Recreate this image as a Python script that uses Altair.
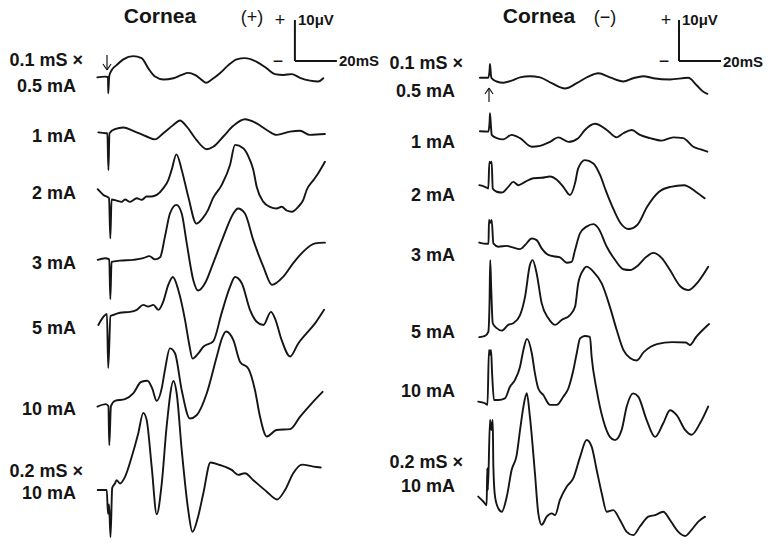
import altair as alt
import pandas as pd

# ---------------- data (time in ms after stimulus, amplitude in microvolts) ----------------
panel_titles = ["Cornea", "Cornea"]
panel_signs = ["(+)", "(−)"]
label_texts = ["0.1 mS ×", "0.5 mA", "1 mA", "2 mA", "3 mA", "5 mA", "10 mA", "0.2 mS ×", "10 mA"]
scale_ms = 20
scale_uv = 10
scale_texts = ["+", "10μV", "−", "20mS"]

# Cornea (+)
L1 = [(-5.1, -0.1), (-1.4, 0.1), (0, 0), (0.1, -4.0), (0.6, 0.2), (1.8, 1.7), (4.1, 2.9), (7.3, 4.3), (12, 5.1),
      (16, 4.6), (19.2, 2.1), (22.4, 0.1), (26.3, -0.6), (31.1, -0.3), (35.1, 0.5), (38.2, 1.0), (41.4, 0.5),
      (44.6, -0.7), (46.7, -1.4), (49.4, -0.6), (53.3, 0.9), (57.3, 2.9), (61.3, 4.3), (65.2, 4.6), (70.8, 3.7),
      (75.6, 2.1), (79.5, 0.7), (83.5, 0.5), (87.5, 0.7), (91.4, -0.2), (96.2, -0.9), (100.1, -1.1), (102.5, -0.3)]
L2 = [(-4.6, -0.1), (-1.0, -0.3), (-0.3, -0.3), (0.2, -9.3), (0.7, -0.3), (3.3, 0.7), (7.3, 1.1), (12.0, 0.3),
      (18.4, -1.1), (22.4, -1.8), (26.3, -0.3), (31.1, 1.7), (34.3, 2.8), (37.5, 1.3), (42.2, -2.0), (47.0, -4.2),
      (50.1, -3.6), (54.9, -1.1), (59.7, 1.5), (65.2, 3.1), (70.8, 2.1), (75.6, 0.5), (80.3, -0.7), (86.7, 0.1),
      (91.4, 0.3), (96.2, -0.7), (103.3, -0.5)]
L3 = [(-4.9, 0.2), (-2.2, -1.2), (0.5, -2.0), (1.1, -11.8), (1.7, -2.3), (4.1, -2.6), (6.5, -2.9), (8.1, -2.3),
      (10.5, -2.9), (13.7, -2.0), (16.0, -2.4), (18.4, -1.6), (20.8, -1.6), (23.2, -1.2), (26.3, 0.4), (28.7, 2.4),
      (30.3, 4.9), (32.6, 8.7), (35.1, 4.9), (38.2, -1.6), (42.1, -8.2), (45.2, -6.8), (47.6, -4.9), (50.0, -2.0),
      (54.1, 1.2), (58.1, 6.1), (60.5, 11.0), (64.4, 10.2), (67.6, 7.3), (69.2, 4.9), (70.8, 0.8), (74.0, -2.9),
      (77.1, -4.1), (80.3, -4.5), (82.7, -4.1), (85.1, -5.0), (87.5, -5.3), (90.6, -4.1), (93.0, -2.4), (94.6, 0),
      (97.8, 2.4), (100.1, 4.1), (103.3, 6.9)]
L4 = [(-4.9, -0.2), (-1.4, 0.2), (0.6, -0.1), (1.1, -9.8), (1.7, -0.7), (5.7, -0.4), (12.0, -0.2), (16.8, 0.2),
      (19.7, 0.7), (22.4, -0.1), (24.8, 0.4), (27.1, 5.4), (29.5, 11.1), (32.6, 13.2), (35.1, 11.1), (37.5, 3.8),
      (40.6, -5.1), (42.9, -7.7), (46.2, -5.9), (50.1, -1.0), (54.9, 5.4), (59.7, 11.1), (61.9, 12.3), (65.2, 11.1),
      (69.2, 4.6), (74.0, -1.9), (78.1, -6.3), (83.5, -4.3), (88.2, -1.0), (93.0, 1.8), (98.6, 3.8), (103.3, 4.0)]
L5 = [(-4.6, 0), (-2.2, 2.0), (-0.5, 2.7), (0.1, -10.5), (1.2, 2.2), (2.2, 2.4), (5.7, 3.0), (10.5, 3.2),
      (13.7, 3.7), (16.8, 4.9), (19.2, 4.5), (21.6, 4.9), (24.0, 3.7), (26.3, 5.7), (28.7, 9.8), (30.9, 11.7),
      (33.5, 8.5), (36.7, 1.2), (38.6, -4.5), (40.3, -8.2), (42.9, -7.0), (45.4, -5.3), (50.1, -4.0), (54.1, 2.9),
      (58.1, 9.3), (60.5, 11.7), (63.7, 10.2), (67.6, 3.7), (70.8, 0.8), (74.0, 0), (77.6, 3.2), (79.5, 1.6),
      (82.7, -3.7), (86.7, -7.7), (90.6, -4.5), (94.6, -2.0), (98.6, 0.4), (102.9, 3.7)]
L6 = [(-5.0, 0.1), (-1.0, 0.7), (0.2, 0.2), (0.6, -9.3), (1.4, 0.2), (3.3, 1.5), (8.1, 1.9), (12.0, 3.3),
      (15.7, 6.1), (18.8, 6.4), (21.0, 4.6), (23.2, 1.5), (25.6, 4.6), (27.1, 9.0), (29.5, 14.3), (31.9, 13.1),
      (35.1, 4.1), (39.0, -2.8), (42.2, -2.0), (47.0, 3.3), (51.8, 12.3), (54.3, 16.8), (56.2, 18.4), (59.7, 16.3),
      (62.9, 11.0), (66.8, 9.4), (70.0, 4.1), (72.4, -2.4), (75.6, -7.2), (80.3, -5.6), (86.7, -5.4), (91.4, -2.4),
      (97.0, 0.9), (102.2, 3.7)]
L7 = [(-4.9, 0), (-0.6, 0), (0.0, -5.8), (0.5, -3.5), (1.2, -11.5), (2.0, 0.5), (3.3, 1.6), (4.1, 2.4), (5.7, 1.6),
      (8.1, 3.2), (11.3, 8.1), (14.4, 13.8), (16.8, 18.8), (18.4, 17.1), (20.8, 5.7), (23.2, -5.9), (25.6, 1.6),
      (27.9, 15.4), (31.2, 26.6), (32.7, 23.6), (35.1, 9.8), (38.2, -4.9), (40.2, -10.2), (42.9, -6.5),
      (45.4, -0.8), (48.8, 6.7), (53.3, 6.1), (58.9, 4.9), (62.0, 3.7), (65.2, 4.1), (69.2, 2.4), (75.6, -0.4),
      (80.5, -2.3), (84.3, 0), (88.2, 4.1), (92.4, 6.2), (97.8, 5.7), (101.3, 5.5)]

# Cornea (-)
R1 = [(-4.8, -0.2), (-0.8, -0.2), (-0.2, 1.7), (0, 3.2), (0.5, 0.2), (0.8, -0.3), (3.2, -1.1), (6.3, -1.4),
      (10.3, -0.9), (14.3, -0.1), (19.0, 0.2), (23.8, -0.1), (29.4, -1.5), (35.7, -2.8), (41.3, -1.5), (46.8, 0.1),
      (51.6, 0.9), (57.1, -0.1), (63.5, -1.1), (68.2, -0.3), (73.0, 0.2), (77.8, -0.3), (85.7, -0.6), (94.4, -0.2),
      (98.4, -2.0), (101.6, -3.6), (103.5, -4.1)]
R2 = [(-4.8, 0.2), (-0.8, 0.1), (-0.2, 2.4), (0, 4.6), (0.5, 1.0), (0.8, -0.7), (3.2, -1.5), (6.3, -1.8),
      (10.3, -0.7), (14.3, -1.5), (19.9, -3.6), (23.8, -3.4), (28.6, -2.4), (32.5, -1.3), (37.3, -2.4), (42.0, -1.5),
      (45.2, 0.5), (50.0, 2.0), (55.6, 0.5), (60.3, -1.3), (63.5, -0.3), (67.5, 0.5), (71.4, -0.7), (76.2, -1.5),
      (81.8, -2.1), (87.3, -1.3), (92.0, -1.5), (96.8, -3.6), (100.0, -4.2), (103.5, -4.8)]
R3 = [(-5.1, 0.2), (-2.4, -0.2), (-0.8, -0.6), (-0.3, 5.9), (0.2, 5.6), (0.8, 5.9), (1.3, -0.6), (3.2, -1.4),
      (5.6, -1.6), (8.7, -0.2), (11.1, 1.0), (13.5, 0.2), (16.7, 1.0), (20.6, 1.9), (24.6, 2.0), (28.6, 2.3),
      (31.8, 1.5), (34.9, -0.2), (38.1, -2.2), (40.5, 0.7), (42.0, 4.3), (45.2, 6.3), (49.2, 5.5), (52.4, 2.7),
      (55.2, -1.2), (59.0, -5.9), (62.2, -9.1), (65.9, -10.5), (70.1, -9.5), (74.9, -5.0), (80.5, -1.4),
      (86.0, -0.2), (92.4, 0.2), (98.0, -1.4), (102.2, -3.0)]
R4 = [(-5.1, 0.1), (-1.6, -0.2), (-0.7, -0.2), (-0.5, 5.6), (0.1, 4.9), (0.8, 5.6), (1.6, -0.1), (4.0, -0.9),
      (8.0, -0.7), (10.3, -1.0), (14.3, -1.5), (16.7, -0.5), (19.9, 1.1), (22.2, 0.7), (24.6, -1.3), (27.8, -2.9),
      (31.0, -3.3), (33.3, -3.5), (36.5, -4.8), (38.9, -4.6), (40.5, -1.7), (42.9, 2.4), (46.0, 4.0), (49.2, 4.6),
      (51.6, 3.6), (55.6, -0.9), (59.5, -4.1), (63.5, -6.4), (66.7, -6.6), (70.6, -5.4), (74.6, -3.3), (77.8, -2.4),
      (81.8, -3.7), (85.7, -6.6), (90.5, -10.5), (94.4, -11.5), (99.2, -9.4), (103.9, -5.8)]
R5 = [(-5.1, 0.2), (-2.4, 0.5), (-0.8, 1.5), (-0.2, 9.3), (0.1, 19.0), (0.6, 11.7), (1.3, 3.6), (3.2, 2.4),
      (5.6, 1.8), (8.7, 3.2), (11.1, 3.6), (14.3, 5.6), (16.7, 10.1), (19.0, 17.8), (20.3, 19.0), (22.2, 15.8),
      (24.6, 8.5), (27.8, 4.8), (31.0, 3.2), (34.1, 4.4), (38.1, 5.6), (40.5, 7.6), (42.0, 13.3), (44.4, 16.6),
      (46.0, 17.4), (49.2, 16.2), (53.2, 13.3), (57.1, 7.6), (60.3, 2.0), (63.5, -2.9), (66.7, -4.9), (69.8, -5.5),
      (73.3, -3.4), (79.5, -1.5), (86.7, -1.0), (93.3, -1.1), (95.2, -1.7), (98.1, 0.2), (104.3, 3.4)]
R6 = [(-5.6, 0.1), (-2.4, -0.3), (-1.2, -0.7), (-0.5, 12.7), (0, 11.5), (0.5, 12.7), (1.0, 7.0), (1.9, 0.5),
      (4.0, 0.5), (7.1, 0.9), (9.5, 3.7), (11.9, 5.4), (14.3, 8.6), (15.9, 12.7), (17.6, 15.4), (19.9, 11.9),
      (21.4, 7.0), (23.0, 3.3), (25.4, 1.7), (28.6, -0.7), (31.8, -0.7), (34.9, 1.3), (37.3, 3.3), (39.7, 7.8),
      (41.3, 11.9), (42.9, 15.5), (45.2, 16.1), (47.6, 15.9), (48.4, 11.0), (50.8, 2.9), (53.9, -4.4), (57.1, -8.5),
      (59.5, -9.3), (62.7, -6.8), (65.1, -1.1), (68.2, 2.1), (70.6, 1.3), (74.6, -4.4), (78.6, -8.5), (82.5, -5.2),
      (85.7, -2.0), (88.9, -3.2), (92.9, -6.8), (96.0, -8.0), (100.0, -5.2), (103.9, -1.1)]
R7 = [(-5.6, 0.1), (-3.2, -1.1), (-1.6, -2.0), (-1.3, 7.0), (-1.0, 1.7), (0, 18.8), (0.6, 16.3), (1.3, 18.8),
      (1.6, 7.4), (2.4, 0.1), (4.0, -2.8), (5.6, -3.6), (8.0, 0.1), (10.3, 6.6), (12.7, 10.2), (14.3, 16.3),
      (15.9, 22.0), (17.5, 25.3), (19.0, 19.6), (21.4, 5.8), (23.0, -4.0), (24.6, -6.8), (27.0, -4.8), (29.4, -4.0),
      (31.0, -4.4), (33.3, -0.7), (36.5, 2.5), (39.7, 4.6), (42.9, 9.8), (46.0, 13.9), (48.4, 12.3), (50.8, 6.6),
      (53.2, 0.9), (55.6, -3.6), (58.7, -3.2), (61.9, -5.6), (65.1, -8.5), (68.2, -9.3), (71.4, -7.2), (75.4, -4.8),
      (78.6, -4.4), (82.5, -3.6), (85.7, -5.6), (89.7, -8.5), (92.9, -9.5), (96.0, -8.0), (99.2, -6.0), (102.4, -4.8)]

left_traces = [L1, L2, L3, L4, L5, L6, L7]
right_traces = [R1, R2, R3, R4, R5, R6, R7]

# ---------------- layout ----------------
W, H = 768, 545
PX_PER_MS = 2.1
PX_PER_UV = 4.1
LEFT_STIM_PX, RIGHT_STIM_PX = 108, 490
left_base_px = [77, 132, 190, 259, 325, 407, 490]
right_base_px = [77, 132, 186, 243, 338, 402, 497]
left_bar_corner = (89.0, -61 / PX_PER_UV)
right_bar_corner = (90.0, -61 / PX_PER_UV)

FONT = "Liberation Sans, Arial, sans-serif"
INK = "#151515"


def trace_frame(traces, bases):
    rows = []
    for i, (tr, b) in enumerate(zip(traces, bases)):
        for t, v in tr:
            rows.append({"trace": i, "t": t, "y": v - b / PX_PER_UV})
    return pd.DataFrame(rows)


ydom = [-H / PX_PER_UV, 0]
lxdom = [-LEFT_STIM_PX / PX_PER_MS, (W - LEFT_STIM_PX) / PX_PER_MS]
rxdom = [-RIGHT_STIM_PX / PX_PER_MS, (W - RIGHT_STIM_PX) / PX_PER_MS]


def xs(field, dom):
    return alt.X(field, scale=alt.Scale(domain=dom, nice=False, zero=False), axis=None)


def ys(field):
    return alt.Y(field, scale=alt.Scale(domain=ydom, nice=False, zero=False), axis=None)


def lines(df, dom):
    return alt.Chart(df).mark_line(
        interpolate="monotone", color=INK, strokeWidth=1.9, strokeJoin="round", strokeCap="round"
    ).encode(x=xs("t:Q", dom), y=ys("y:Q"), detail="trace:N", order="t:Q")


def bar(corner, dom):
    t0, y0 = corner
    df = pd.DataFrame([
        {"t": t0, "t2": t0, "y": y0, "y2": y0 + scale_uv},
        {"t": t0, "t2": t0 + scale_ms, "y": y0, "y2": y0},
    ])
    return alt.Chart(df).mark_rule(color=INK, strokeWidth=2).encode(
        x=xs("t:Q", dom), x2="t2:Q", y=ys("y:Q"), y2="y2:Q")


def texts(items, align, size, weight="bold", font=FONT):
    df = pd.DataFrame(items, columns=["text", "px", "py"])
    return alt.Chart(df).mark_text(
        align=align, baseline="middle", fontSize=size, fontWeight=weight, font=font, color=INK
    ).encode(
        x=alt.X("px:Q", scale=None, axis=None),
        y=alt.Y("py:Q", scale=None, axis=None),
        text="text:N",
    )


# stimulus arrows (annotation strokes, in pixels)
arrow_segments = pd.DataFrame([
    {"x": 107, "y": 55, "x2": 107, "y2": 70}, {"x": 103, "y": 64, "x2": 107, "y2": 70},
    {"x": 111, "y": 64, "x2": 107, "y2": 70},
    {"x": 489, "y": 88, "x2": 489, "y2": 102}, {"x": 485, "y": 94, "x2": 489, "y2": 88},
    {"x": 493, "y": 94, "x2": 489, "y2": 88},
])
arrows = alt.Chart(arrow_segments).mark_rule(color=INK, strokeWidth=1.2).encode(
    x=alt.X("x:Q", scale=None, axis=None), x2="x2:Q",
    y=alt.Y("y:Q", scale=None, axis=None), y2="y2:Q",
)

left_label_pos = [(83, 61), (76, 87), (76, 137), (76, 194), (76, 264), (76, 329), (76, 410), (83, 472), (76, 494)]
right_label_pos = [(463, 64), (455, 92), (455, 143), (455, 196), (455, 256), (455, 333), (455, 392), (463, 463), (455, 487)]
labels = [(s, x, y) for s, (x, y) in zip(label_texts, left_label_pos)] + \
         [(s, x, y) for s, (x, y) in zip(label_texts, right_label_pos)]

titles = [(panel_titles[0], 160, 17), (panel_titles[1], 539, 17)]
signs = [(panel_signs[0], 252, 18), (panel_signs[1], 605, 18)]
scale_center = [(scale_texts[0], 280, 21), (scale_texts[2], 278, 62),
                (scale_texts[0], 666, 21), (scale_texts[2], 664, 62)]
scale_left = [(scale_texts[1], 298, 20), (scale_texts[3], 339, 61),
              (scale_texts[1], 682, 20), (scale_texts[3], 723, 62)]

chart = alt.layer(
    lines(trace_frame(left_traces, left_base_px), lxdom),
    lines(trace_frame(right_traces, right_base_px), rxdom),
    bar(left_bar_corner, lxdom),
    bar(right_bar_corner, rxdom),
    arrows,
    texts(labels, "right", 18),
    texts(titles, "center", 21),
    texts(signs, "center", 18, weight="normal"),
    texts(scale_center, "center", 18, weight="normal"),
    texts(scale_left, "left", 15),
).resolve_scale(x="independent", y="independent").properties(
    width=W, height=H, padding=0, autosize="none", background="white"
).configure_view(stroke=None)

chart.save("out.html", embed_options={"renderer": "svg", "actions": False})
